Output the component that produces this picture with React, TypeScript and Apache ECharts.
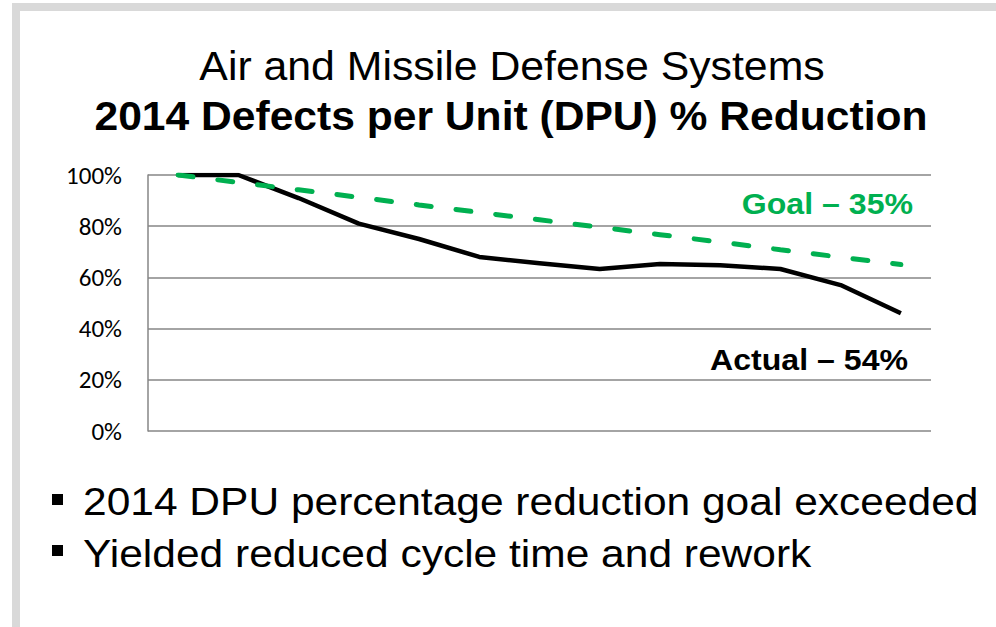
import React, { useEffect, useRef } from "react";
import * as echarts from "echarts";

const categories = ["Dec", "Jan", "Feb", "Mar", "Apr", "May", "Jun", "Jul", "Aug", "Sep", "Oct", "Nov", "Dec2"];
const actualValues = [100, 100, 91, 81, 75, 68, 65.5, 63.3, 65.2, 64.7, 63.3, 57, 46];
const goalValues = [100, 97.1, 94.2, 91.3, 88.3, 85.4, 82.5, 79.6, 76.7, 73.8, 70.8, 67.9, 65];
const titleLine1 = "Air and Missile Defense Systems";
const titleLine2 = "2014 Defects per Unit (DPU) % Reduction";
const goalLabel = "Goal \u2013 35%";
const actualLabel = "Actual \u2013 54%";
const bullets = ["2014 DPU percentage reduction goal exceeded", "Yielded reduced cycle time and rework"];

const ARIAL = "'Liberation Sans', Arial, sans-serif";

export default function App() {
  const ref = useRef<HTMLDivElement>(null);
  useEffect(() => {
    if (!ref.current) return;
    const chart = echarts.init(ref.current, null, { renderer: "svg" });
    const txt = (x: number, y: number, text: string, size: number, opts: any = {}) => ({
      type: "text",
      x,
      y,
      scaleX: opts.sx || 1.07,
      style: {
        x: 0,
        y: 0,
        text,
        fontFamily: ARIAL,
        fontSize: size,
        fontWeight: opts.bold ? "bold" : "normal",
        fill: opts.color || "#000",
        align: opts.align || "left",
        verticalAlign: "middle",
      },
    });
    chart.setOption({
      animation: false,
      grid: { left: 148, right: 65, top: 175, bottom: 196, containLabel: false },
      xAxis: {
        type: "category",
        data: categories,
        boundaryGap: true,
        axisLine: { show: false },
        axisTick: { show: false },
        axisLabel: { show: false },
      },
      yAxis: {
        type: "value",
        min: 0,
        max: 100,
        interval: 20,
        axisLine: { show: true, lineStyle: { color: "#868686", width: 1.5 } },
        axisTick: { show: false },
        axisLabel: {
          formatter: "{value}%",
          margin: 26,
          fontFamily: "Carlito, 'Open Sans', sans-serif",
          fontSize: 25,
          color: "#000",
        },
        splitLine: { show: true, lineStyle: { color: "#868686", width: 1.5 } },
      },
      series: [
        {
          type: "line",
          data: goalValues,
          symbol: "none",
          z: 3,
          lineStyle: { color: "#00B050", width: 5, type: [15, 25], cap: "round" },
        },
        {
          type: "line",
          data: actualValues,
          symbol: "none",
          z: 2,
          lineStyle: { color: "#000", width: 4.5, join: "round" },
        },
      ],
      graphic: [
        { type: "rect", shape: { x: 12, y: 3, width: 984, height: 8 }, style: { fill: "#D9D9D9" } },
        { type: "rect", shape: { x: 12, y: 3, width: 8, height: 624 }, style: { fill: "#D9D9D9" } },
        txt(512, 66, titleLine1, 40, { align: "center" }),
        txt(511, 116, titleLine2, 40, { align: "center", bold: true, sx: 1.065 }),
        txt(913, 204, goalLabel, 30, { align: "right", bold: true, color: "#00B050" }),
        txt(908, 360, actualLabel, 30, { align: "right", bold: true }),
        { type: "rect", shape: { x: 52, y: 494, width: 11, height: 11 }, style: { fill: "#000" } },
        { type: "rect", shape: { x: 52, y: 545, width: 11, height: 11 }, style: { fill: "#000" } },
        txt(83, 502, bullets[0], 39, { sx: 1.09 }),
        txt(83, 554, bullets[1], 39, { sx: 1.09 }),
      ],
    });
    return () => chart.dispose();
  }, []);
  return (
    <div
      ref={ref}
      style={{ position: "fixed", left: 0, top: 0, width: 996, height: 627, background: "#fff" }}
    />
  );
}
